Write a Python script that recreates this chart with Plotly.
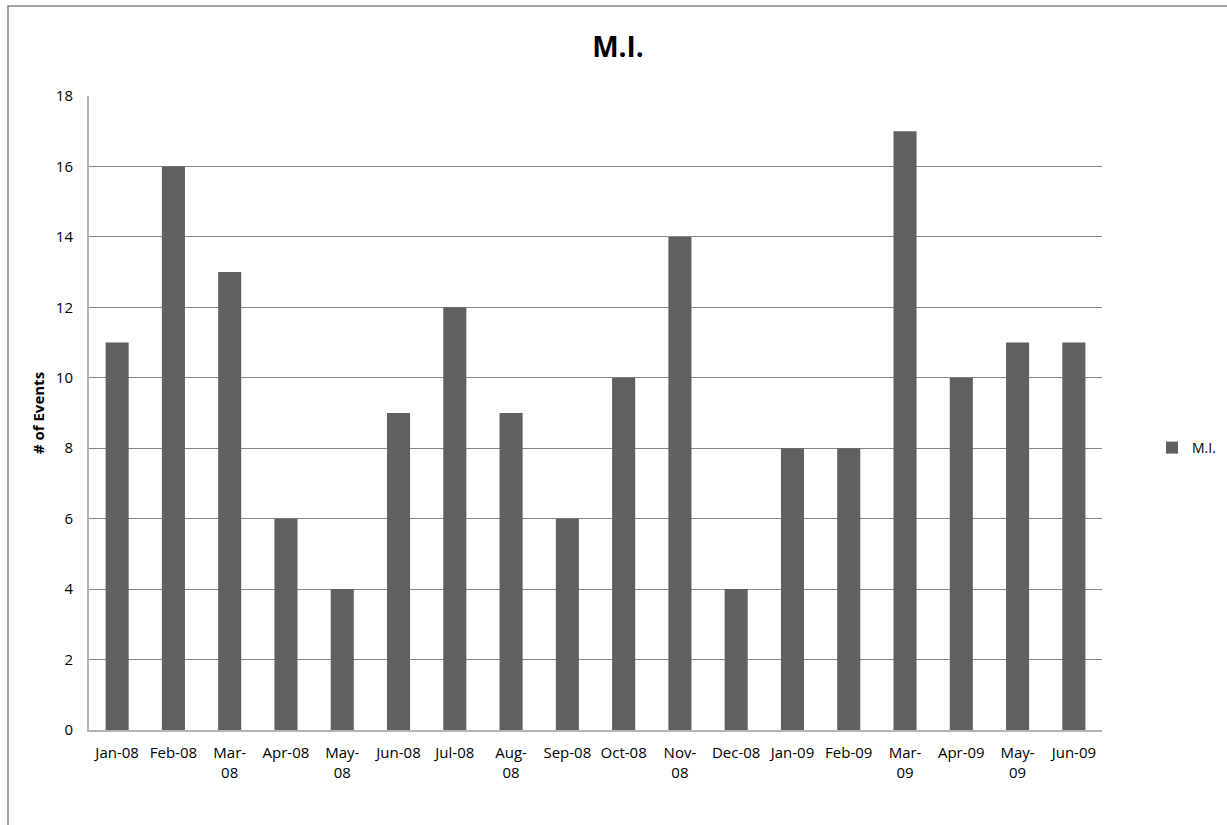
import plotly.graph_objects as go

months = ["Jan-08", "Feb-08", "Mar-<br>08", "Apr-08", "May-<br>08", "Jun-08", "Jul-08", "Aug-<br>08",
          "Sep-08", "Oct-08", "Nov-<br>08", "Dec-08", "Jan-09", "Feb-09", "Mar-<br>09", "Apr-09",
          "May-<br>09", "Jun-09"]
events = [11, 16, 13, 6, 4, 9, 12, 9, 6, 10, 14, 4, 8, 8, 17, 10, 11, 11]
y_ticks = list(range(0, 19, 2))

FONT = "Open Sans"
fig = go.Figure()
fig.add_trace(go.Bar(x=months, y=events, name="M.I.", marker=dict(color="#606060", line=dict(width=0))))

L, R, T, B = 89, 1227 - 1102, 96, 825 - 730
W, H = 1227 - L - R, 825 - T - B

fig.update_layout(
    width=1227, height=825,
    margin=dict(l=L, r=R, t=T, b=B, autoexpand=False),
    paper_bgcolor="white", plot_bgcolor="white",
    bargap=0.59,
    font=dict(family=FONT, size=14, color="black"),
    title=dict(text="<b>M.I.</b>", x=618 / 1227, xanchor="center", y=1 - 47 / 825, yanchor="middle",
               font=dict(family=FONT, size=28, color="black")),
    showlegend=True,
    legend=dict(x=(1152 - L) / W, y=(730 - 448) / H, xanchor="left", yanchor="middle",
                font=dict(family=FONT, size=14), bgcolor="rgba(0,0,0,0)", itemwidth=30),
    xaxis=dict(showline=True, linecolor="#b4b4b4", linewidth=2, ticks="outside", ticklen=8,
               tickcolor="rgba(0,0,0,0)", tickfont=dict(size=15), tickangle=0, showgrid=False),
    yaxis=dict(range=[0, 18], tickvals=y_ticks, showgrid=True, gridcolor="#868686", gridwidth=1,
               showline=True, linecolor="#b4b4b4", linewidth=2, ticks="outside", ticklen=11,
               tickcolor="rgba(0,0,0,0)", zeroline=False, tickfont=dict(size=15),
               title=dict(text="<b># of Events</b>", font=dict(size=15), standoff=8)),
    shapes=[dict(type="rect", xref="paper", yref="paper",
                 x0=(8 - L) / W, x1=(1240 - L) / W, y0=(730 - 840) / H, y1=(730 - 6) / H,
                 line=dict(color="#868686", width=1.5), fillcolor="rgba(0,0,0,0)", layer="below")],
)

fig.write_html("out.html", config={"displayModeBar": False},
               post_script="document.body.style.margin='0';document.body.style.overflow='hidden';")
